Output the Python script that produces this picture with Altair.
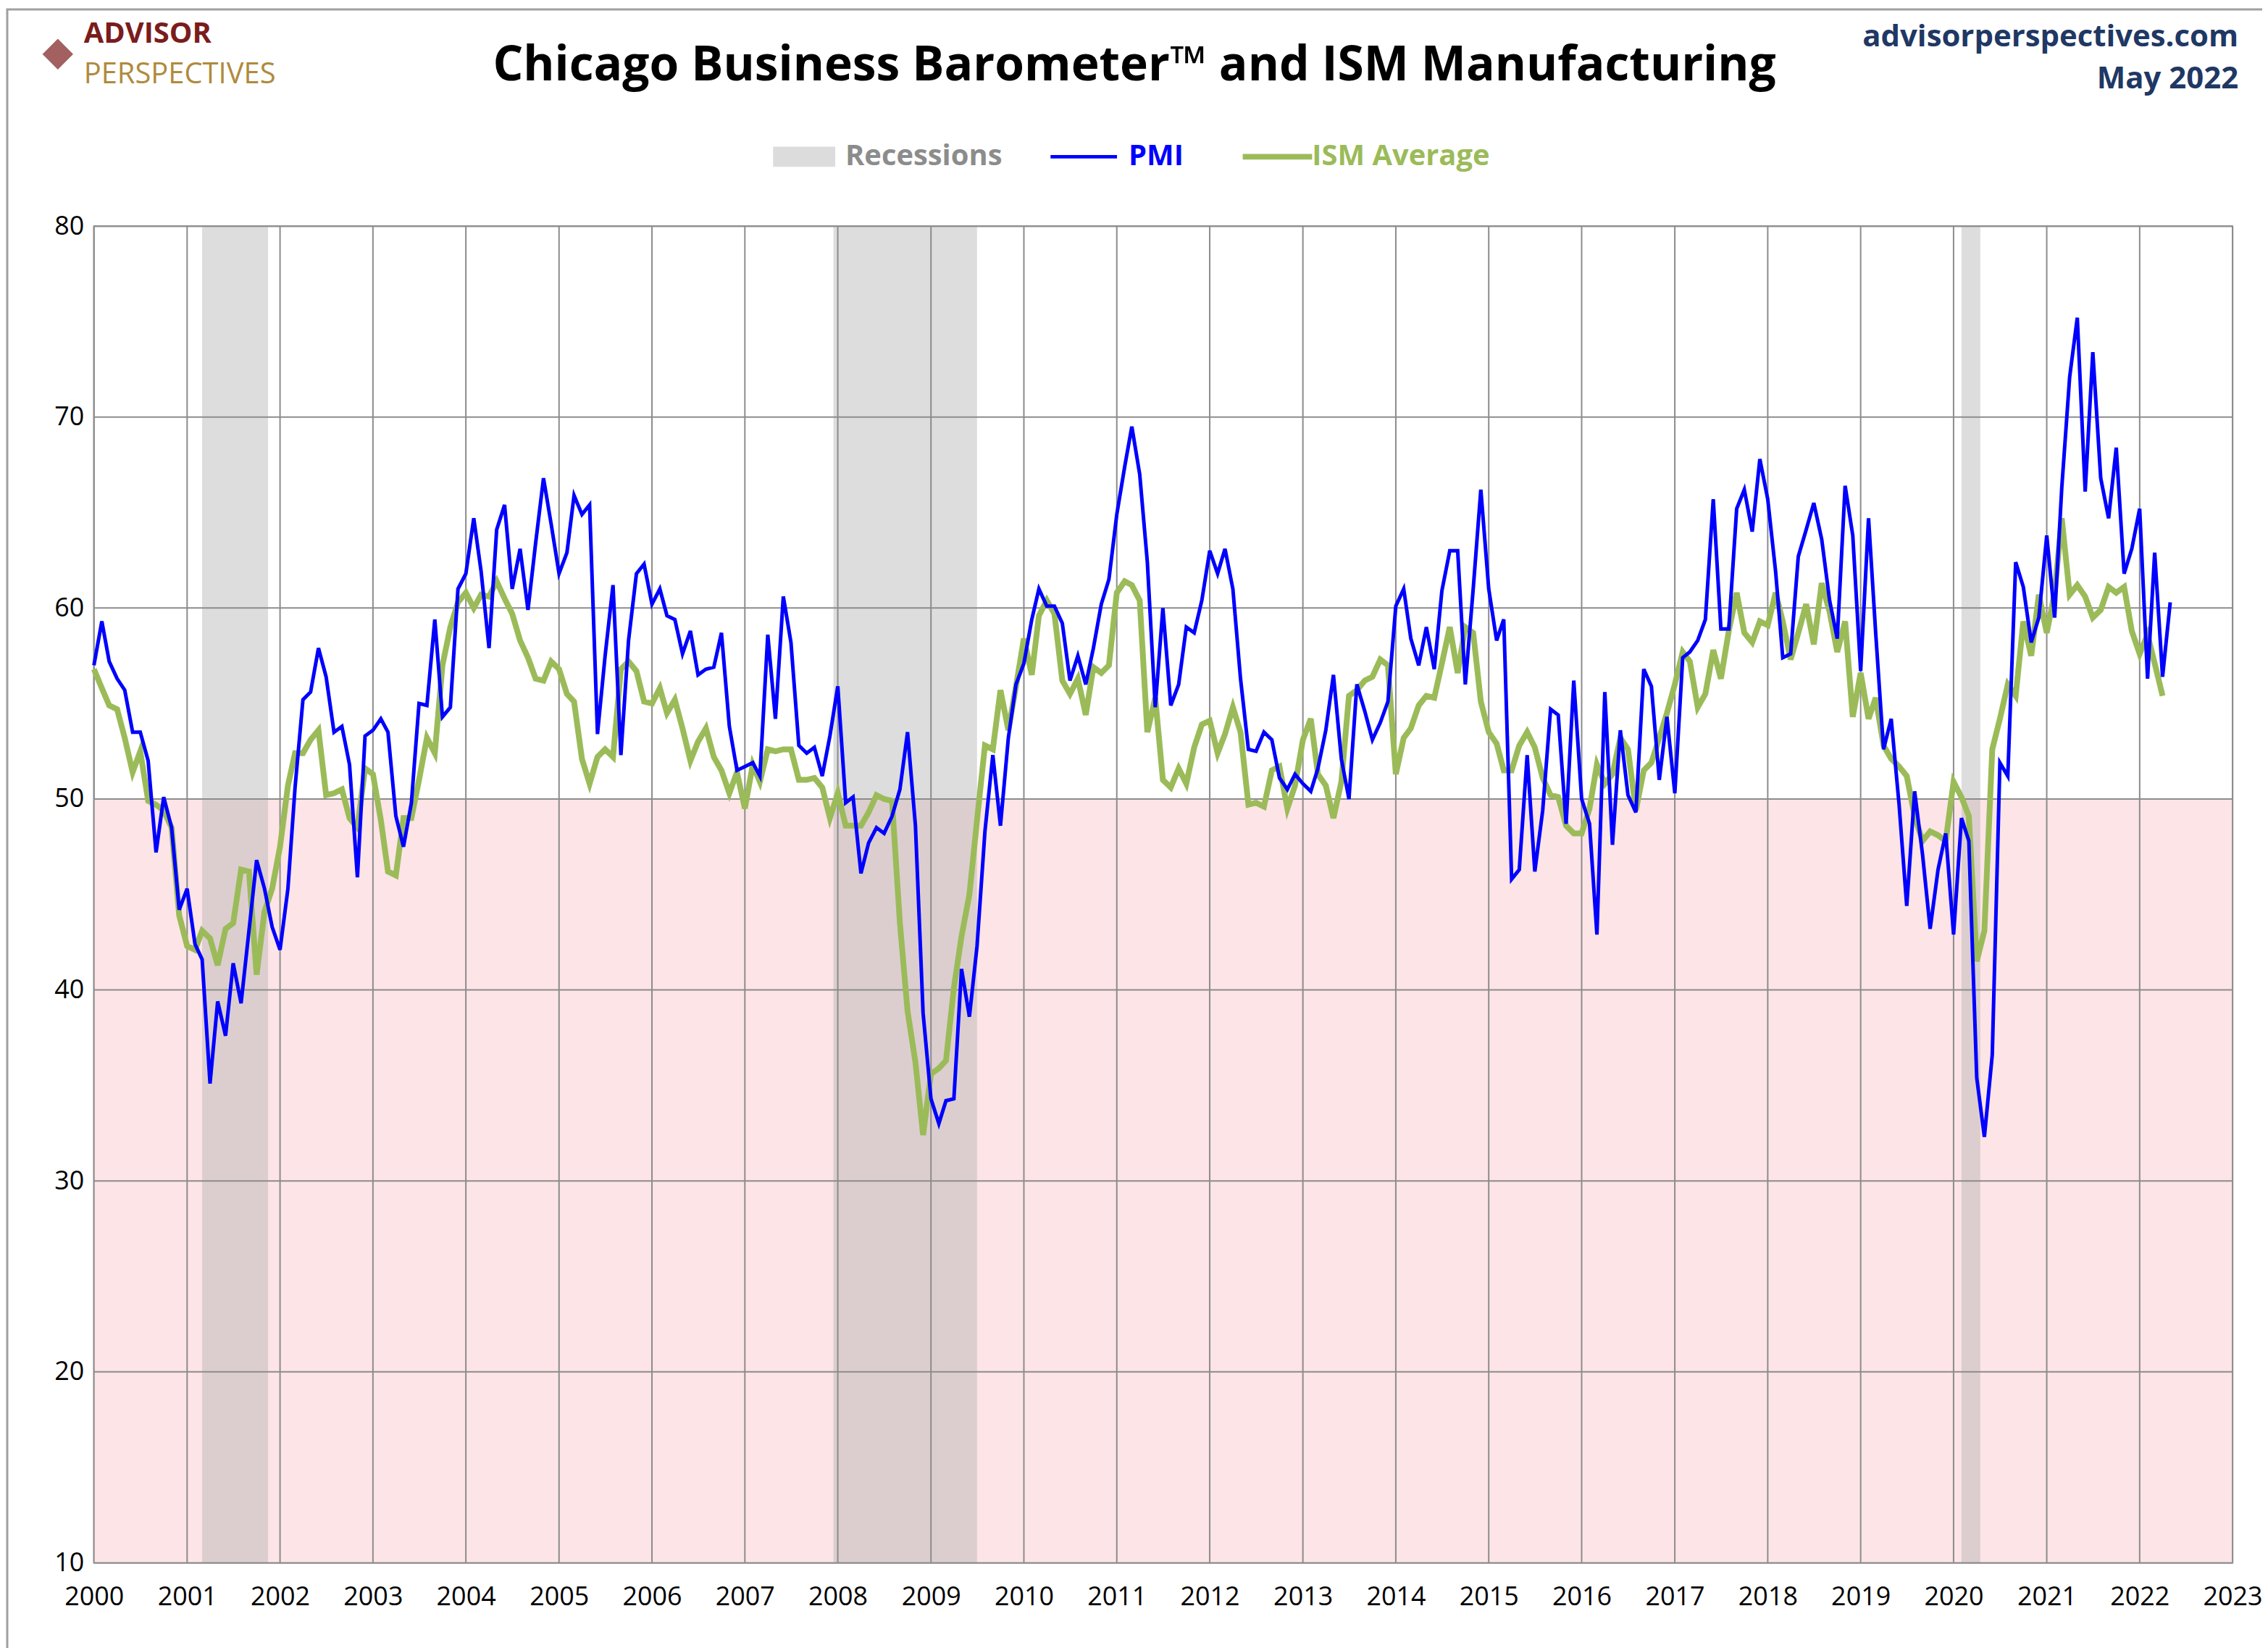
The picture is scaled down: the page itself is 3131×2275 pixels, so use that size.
import altair as alt
import pandas as pd

pmi = [
    57.0, 59.3, 57.2, 56.3, 55.7, 53.5, 53.5, 52.0, 47.2, 50.1, 48.5, 44.2,
    45.3, 42.4, 41.6, 35.1, 39.4, 37.6, 41.4, 39.3, 43.1, 46.8, 45.3, 43.3,
    42.1, 45.3, 50.6, 55.2, 55.6, 57.9, 56.4, 53.5, 53.8, 51.8, 45.9, 53.3,
    53.6, 54.2, 53.5, 49.1, 47.5, 49.8, 55.0, 54.9, 59.4, 54.3, 54.8, 61.0,
    61.8, 64.7, 61.9, 57.9, 64.1, 65.4, 61.0, 63.1, 59.9, 63.4, 66.8, 64.4,
    61.8, 62.9, 65.9, 64.9, 65.4, 53.4, 57.5, 61.2, 52.3, 58.3, 61.8, 62.3,
    60.2, 61.0, 59.6, 59.4, 57.6, 58.8, 56.5, 56.8, 56.9, 58.7, 53.8, 51.5,
    51.7, 51.9, 51.2, 58.6, 54.2, 60.6, 58.2, 52.8, 52.4, 52.7, 51.2, 53.3,
    55.9, 49.8, 50.1, 46.1, 47.7, 48.5, 48.2, 49.1, 50.5, 53.5, 48.6, 38.8,
    34.3, 33.0, 34.2, 34.3, 41.1, 38.6, 42.3, 48.3, 52.3, 48.6, 53.2, 56.0,
    57.1, 59.4, 61.0, 60.1, 60.1, 59.2, 56.2, 57.5, 56.0, 57.9, 60.2, 61.5,
    64.9, 67.4, 69.5, 67.0, 62.4, 54.8, 60.0, 54.9, 56.0, 59.0, 58.7, 60.4,
    63.0, 61.8, 63.1, 61.0, 56.3, 52.6, 52.5, 53.5, 53.1, 51.1, 50.5, 51.3,
    50.8, 50.4, 51.6, 53.6, 56.5, 52.1, 50.0, 56.0, 54.6, 53.1, 54.0, 55.1,
    60.1, 61.0, 58.4, 57.0, 59.0, 56.8, 60.9, 63.0, 63.0, 56.0, 61.0, 66.2,
    61.0, 58.3, 59.4, 45.8, 46.3, 52.3, 46.2, 49.4, 54.7, 54.4, 48.7, 56.2,
    50.0, 48.7, 42.9, 55.6, 47.6, 53.6, 50.2, 49.3, 56.8, 55.9, 51.0, 54.3,
    50.3, 57.4, 57.7, 58.3, 59.4, 65.7, 58.9, 58.9, 65.2, 66.2, 64.0, 67.8,
    65.7, 61.9, 57.4, 57.6, 62.7, 64.1, 65.5, 63.6, 60.4, 58.4, 66.4, 63.8,
    56.7, 64.7, 58.7, 52.6, 54.2, 49.7, 44.4, 50.4, 47.1, 43.2, 46.3, 48.2,
    42.9, 49.0, 47.8, 35.4, 32.3, 36.6, 51.9, 51.2, 62.4, 61.1, 58.2, 59.5,
    63.8, 59.5, 66.3, 72.1, 75.2, 66.1, 73.4, 66.8, 64.7, 68.4, 61.8, 63.1,
    65.2, 56.3, 62.9, 56.4, 60.3,
]

ism = [
    56.8, 55.8, 54.9, 54.7, 53.2, 51.4, 52.5, 49.9, 49.7, 49.4, 48.5, 43.9,
    42.3, 42.1, 43.1, 42.7, 41.3, 43.2, 43.5, 46.3, 46.2, 40.8, 44.1, 45.3,
    47.5, 50.7, 52.4, 52.4, 53.1, 53.6, 50.2, 50.3, 50.5, 49.0, 48.5, 51.6,
    51.3, 48.9, 46.2, 46.0, 49.0, 49.0, 51.0, 53.2, 52.4, 57.0, 59.0, 60.3,
    60.8, 60.0, 60.7, 60.6, 61.4, 60.5, 59.7, 58.3, 57.4, 56.3, 56.2, 57.2,
    56.8, 55.5, 55.1, 52.1, 50.8, 52.2, 52.6, 52.2, 56.8, 57.2, 56.7, 55.1,
    55.0, 55.8, 54.5, 55.2, 53.7, 52.0, 53.0, 53.7, 52.2, 51.5, 50.3, 51.4,
    49.5, 51.8, 50.9, 52.6, 52.5, 52.6, 52.6, 51.0, 51.0, 51.1, 50.6, 49.0,
    50.3, 48.6, 48.6, 48.6, 49.3, 50.2, 50.0, 49.9, 43.5, 38.9, 36.2, 32.4,
    35.6, 35.9, 36.3, 40.1, 42.8, 45.0, 48.9, 52.8, 52.6, 55.7, 53.6, 55.9,
    58.4, 56.5, 59.6, 60.4, 59.7, 56.2, 55.5, 56.3, 54.4, 56.9, 56.6, 57.0,
    60.8, 61.4, 61.2, 60.4, 53.5, 55.3, 51.0, 50.6, 51.6, 50.8, 52.7, 53.9,
    54.1, 52.4, 53.4, 54.8, 53.5, 49.7, 49.8, 49.6, 51.5, 51.7, 49.5, 50.7,
    53.1, 54.2, 51.3, 50.7, 49.0, 50.9, 55.4, 55.7, 56.2, 56.4, 57.3, 57.0,
    51.3, 53.2, 53.7, 54.9, 55.4, 55.3, 57.1, 59.0, 56.6, 59.0, 58.7, 55.1,
    53.5, 52.9, 51.5, 51.5, 52.8, 53.5, 52.7, 51.1, 50.2, 50.1, 48.6, 48.2,
    48.2, 49.5, 51.8, 50.8, 51.3, 53.2, 52.6, 49.4, 51.5, 51.9, 53.2, 54.5,
    56.0, 57.7, 57.2, 54.8, 55.5, 57.8, 56.3, 58.8, 60.8, 58.7, 58.2, 59.3,
    59.1, 60.8, 59.3, 57.3, 58.7, 60.2, 58.1, 61.3, 59.8, 57.7, 59.3, 54.3,
    56.6, 54.2, 55.3, 52.8, 52.1, 51.7, 51.2, 49.1, 47.8, 48.3, 48.1, 47.8,
    50.9, 50.1, 49.1, 41.5, 43.1, 52.6, 54.2, 56.0, 55.4, 59.3, 57.5, 60.7,
    58.7, 60.8, 64.7, 60.7, 61.2, 60.6, 59.5, 59.9, 61.1, 60.8, 61.1, 58.8,
    57.6, 58.6, 57.1, 55.4,
]

recession_start = ["2001-03-01", "2007-12-15", "2020-02-01"]
recession_end = ["2001-11-15", "2009-07-01", "2020-04-15"]
year_ticks = [f"{y}-01-01" for y in range(2000, 2024)]
y_ticks = [10, 20, 30, 40, 50, 60, 70, 80]

W, H = 2960, 1850
FONT = "Open Sans"

dates = pd.date_range("2000-01-01", periods=len(pmi), freq="MS")
pmi_df = pd.DataFrame({"date": dates, "value": pmi})
ism_df = pd.DataFrame({"date": dates[:len(ism)], "value": ism})
rec_df = pd.DataFrame({"start": recession_start, "end": recession_end})

xscale = alt.Scale(domain=["2000-01-01", "2023-01-01"])
yscale = alt.Scale(domain=[10, 80])

pink = alt.Chart(pd.DataFrame({"a": ["2000-01-01"], "b": ["2023-01-01"], "lo": [10], "hi": [50]})).mark_rect(
    color="#fde4e6").encode(
    x=alt.X("a:T", scale=xscale, axis=alt.Axis(
        values=year_ticks, format="%Y", title=None, grid=False, domain=False, ticks=False,
        labelFontSize=36, labelFont=FONT, labelColor="black", labelPadding=30,
        labelAlign="center", labelFlush=False, labelOverlap=False)),
    x2="b:T",
    y=alt.Y("lo:Q", scale=yscale, axis=alt.Axis(
        values=y_ticks, title=None, grid=False, domain=False, ticks=False,
        labelFontSize=36, labelFont=FONT, labelColor="black", labelPadding=14)),
    y2="hi:Q",
)

recessions = alt.Chart(rec_df).mark_rect(color="#b4b4b4", opacity=0.45).encode(
    x="start:T", x2="end:T", y=alt.value(0), y2=alt.value(H))

vgrid = alt.Chart(pd.DataFrame({"d": year_ticks})).mark_rule(color="#8c8c8c", strokeWidth=2).encode(
    x="d:T")
hgrid = alt.Chart(pd.DataFrame({"v": y_ticks})).mark_rule(color="#8c8c8c", strokeWidth=2).encode(
    y="v:Q")

ism_line = alt.Chart(ism_df).mark_line(color="#9bbb59", strokeWidth=8).encode(
    x="date:T", y="value:Q")
pmi_line = alt.Chart(pmi_df).mark_line(color="#0000ff", strokeWidth=5).encode(
    x="date:T", y="value:Q")


def text(s, x, y, size, color, align="left", weight="bold"):
    return alt.Chart(pd.DataFrame({"t": [s]})).mark_text(
        font=FONT, fontSize=size, fontWeight=weight, color=color, align=align, baseline="middle"
    ).encode(text="t:N", x=alt.value(x), y=alt.value(y))


def seg(x1, x2, y, color, width):
    return alt.Chart(pd.DataFrame({"k": [0]})).mark_rule(color=color, strokeWidth=width).encode(
        x=alt.value(x1), x2=alt.value(x2), y=alt.value(y))


title = text("Chicago Business Barometer™ and ISM Manufacturing", 1440, -222, 66, "black", "center")
site = text("advisorperspectives.com", 2968, -262, 42, "#1f3864", "right")
month = text("May 2022", 2968, -204, 42, "#1f3864", "right")
logo1 = text("ADVISOR", -14, -266, 40, "#7b1c1c")
logo2 = text("PERSPECTIVES", -14, -210, 40, "#b08a3c", weight="normal")
compass = alt.Chart(pd.DataFrame({"k": [0]})).mark_point(
    shape="diamond", filled=True, color="#7b1c1c", size=1800).encode(x=alt.value(-50), y=alt.value(-238))

leg_rect = alt.Chart(pd.DataFrame({"k": [0]})).mark_rect(color="#dcdcdc").encode(
    x=alt.value(940), x2=alt.value(1026), y=alt.value(-110), y2=alt.value(-82))
leg = [
    leg_rect,
    text("Recessions", 1040, -96, 40, "#8c8c8c"),
    seg(1324, 1416, -96, "#0000ff", 5),
    text("PMI", 1432, -96, 40, "#0000ff"),
    seg(1590, 1686, -96, "#9bbb59", 8),
    text("ISM Average", 1686, -96, 40, "#9bbb59"),
]

frame = alt.Chart(pd.DataFrame({"k": [0]})).mark_rect(fill=None, stroke="#a0a0a0", strokeWidth=3).encode(
    x=alt.value(-120), x2=alt.value(3078), y=alt.value(-300), y2=alt.value(2138))

chart = alt.layer(
    pink, recessions, vgrid, hgrid, ism_line, pmi_line,
    title, site, month, logo1, logo2, compass, *leg, frame,
).properties(
    width=W, height=H,
    autosize=alt.AutoSizeParams(type="none"),
    padding={"left": 122, "top": 302, "right": 41, "bottom": 115},
    background="white",
).configure_view(stroke="#8c8c8c", strokeWidth=2)

chart.save("out.html", embed_options={"renderer": "svg", "actions": False})
